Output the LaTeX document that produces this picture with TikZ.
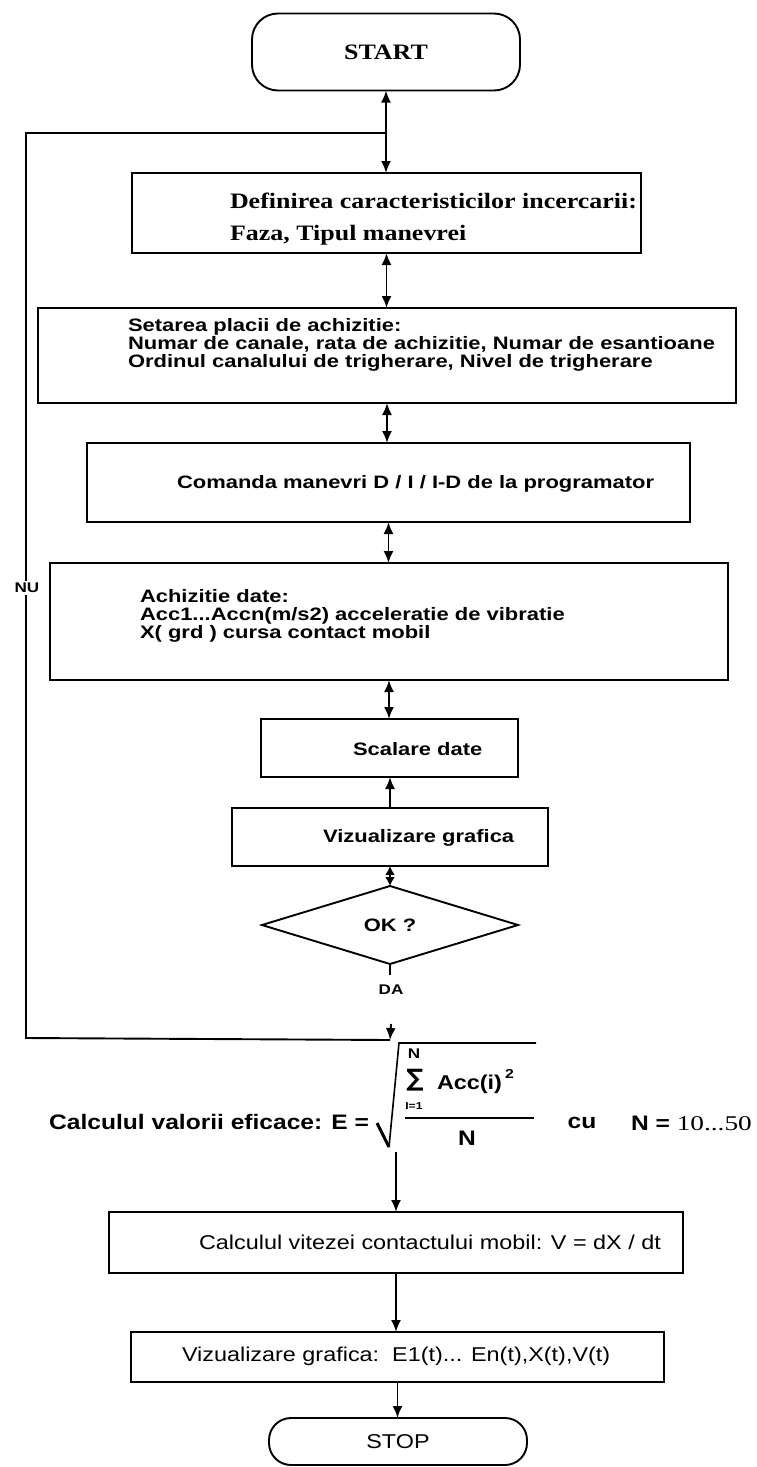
\documentclass[tikz,border=0pt]{standalone}
\usepackage{fontspec}
\setmainfont{Liberation Serif}
\setsansfont{Liberation Sans}
\newfontfamily\sfw[FakeStretch=1.22]{Liberation Sans}
\newfontfamily\sfn[FakeStretch=1.17]{Liberation Sans}
\newfontfamily\rmw[FakeStretch=1.18]{Liberation Serif}
\newfontfamily\rmx[FakeStretch=1.3]{Liberation Serif}
\newfontfamily\symfont{DejaVu Sans}
\usetikzlibrary{arrows.meta,shapes.geometric}

\begin{document}
\begin{tikzpicture}[x=1pt,y=-1pt,
  every node/.style={inner sep=0pt, outer sep=0pt},
  box/.style={draw, line width=1.9pt, rectangle},
  term/.style={draw, line width=1.9pt, rounded corners=26pt},
  serifb/.style={font=\rmw\bfseries\fontsize{22}{32}\selectfont},
  sansb/.style={font=\sfw\bfseries\fontsize{18}{18}\selectfont},
  sansr/.style={font=\sfn\fontsize{20}{22}\selectfont},
  small/.style={font=\sfw\bfseries\fontsize{14}{16}\selectfont},
  big/.style={font=\sfn\bfseries\fontsize{21}{23}\selectfont},
  txt/.style={anchor=west, align=left},
  flow/.style={line width=1.9pt},
  tip/.style={-{Latex[length=12pt,width=10pt]}},
  both/.style={{Latex[length=12pt,width=10pt]}-{Latex[length=12pt,width=10pt]}},
]
\useasboundingbox (0,0) rectangle (757,1467);

% terminals
\node[term, minimum width=268pt, minimum height=77pt, font=\rmw\bfseries\fontsize{22}{24}\selectfont] (start) at (386,52) {START};
\node[term, rounded corners=22pt, minimum width=258pt, minimum height=47pt, sansr] (stop) at (398,1441.5) {STOP};

% process boxes
\node[box, minimum width=509pt, minimum height=80pt]  (b1) at (386.5,213) {};
\node[box, minimum width=698pt, minimum height=95pt]  (b2) at (387,355.5) {};
\node[box, minimum width=603pt, minimum height=79pt]  (b3) at (388.5,482.5) {};
\node[box, minimum width=678pt, minimum height=117pt] (b4) at (389,621.5) {};
\node[box, minimum width=257pt, minimum height=58pt]  (b5) at (389.5,748) {};
\node[box, minimum width=316pt, minimum height=58pt]  (b6) at (390,837) {};
\node[draw, line width=1.9pt, shape=diamond, aspect=3.28, minimum width=256pt, minimum height=78pt, font=\sfw\bfseries\fontsize{18}{20}\selectfont] (ok) at (390,925) {OK ?};
\node[box, minimum width=574pt, minimum height=61pt]  (b7) at (396,1242.5) {};
\node[box, minimum width=533pt, minimum height=50pt]  (b8) at (397.5,1357) {};

% box texts
\node[txt, serifb] (t1) at (230,219) {Definirea caracteristicilor incercarii:\\Faza, Tipul manevrei};
\node[txt, sansb] (t2) at (128,345) {Setarea placii de achizitie:\\Numar de canale, rata de achizitie, Numar de esantioane\\Ordinul canalului de trigherare, Nivel de trigherare};
\node[txt, sansb] (t3) at (177,484) {Comanda manevri D / I / I-D de la programator};
\node[txt, sansb] (t4) at (140,616) {Achizitie date:\\Acc1...Accn(m/s2) acceleratie de vibratie\\X( grd ) cursa contact mobil};
\node[txt, sansb] (t5) at (353,749) {Scalare date};
\node[txt, sansb] (t6) at (323,838) {Vizualizare grafica};
\node[txt, sansr] (t7) at (199,1242) {Calculul vitezei contactului mobil: V = dX / dt};
\node[txt, sansr] (t8) at (182,1356) {Vizualizare grafica:\ \ E1(t)... En(t),X(t),V(t)};

% main flow
\coordinate (jtop) at (386,133);
\coordinate (ltop) at (26,133);
\coordinate (lbot) at (26,1038);
\coordinate (jbot) at (390,1040);
\coordinate (jin)  at (391,1024);
\coordinate (dastub) at (390,975);
\draw[flow,both] (start.south) -- (start.south |- b1.north);
\draw[flow,both] (b1.south) -- (b1.south |- b2.north);
\draw[flow,both] (b2.south) -- (b2.south |- b3.north);
\draw[flow,both] (b3.south) -- (b3.south |- b4.north);
\draw[flow,both] (b4.south) -- (b4.south |- b5.north);
\draw[flow,tip] (b6.north) -- (b6.north |- b5.south);
\draw[flow,{Latex[length=9pt,width=10pt]}-{Latex[length=9pt,width=10pt]}] (b6.south) -- (ok.north);
\draw[flow] (ok.south) -- (dastub);
\node[small] (da) at (391,990) {DA};

% return loop
\draw[flow] (jtop) -- (ltop) -- (lbot) -- (jbot);
\draw[flow,tip] (jin) -- (jbot);
\node[fill=white, inner ysep=2pt, small] (nu) at (27,588) {NU};

% RMS formula
\node[anchor=east, font=\sfn\bfseries\fontsize{21}{23}\selectfont] (calc) at (369,1122) {Calculul valorii eficace: E =};
\coordinate (r1) at (377,1123);
\coordinate (r2) at (389,1147);
\coordinate (r3) at (399,1043);
\coordinate (r4) at (536,1043);
\draw[line width=3pt] (r1) -- (r2);
\draw[line width=1.6pt] (r2) -- (r3) -- (r4);
\node[font=\symfont\bfseries\fontsize{24}{26}\selectfont] (sum) at (415,1080) {∑};
\node[font=\sfw\bfseries\fontsize{14}{16}\selectfont] (sumup) at (414,1054) {N};
\node[font=\sfw\bfseries\fontsize{10}{12}\selectfont] (sumlo) at (414,1106) {I=1};
\node[anchor=west, font=\sfn\bfseries\fontsize{20}{22}\selectfont] (acc) at (437,1084) {Acc(i)};
\node[anchor=south west, font=\sfw\bfseries\fontsize{13}{15}\selectfont] (sq) at ([xshift=3pt,yshift=-4pt]acc.north east) {2};
\coordinate (fr1) at (405,1118);
\coordinate (fr2) at (534,1118);
\draw[line width=1.6pt] (fr1) -- (fr2);
\node[big] (den) at (467,1138) {N};
\node[big] (cu) at (582,1123) {cu};
\node[anchor=west, font=\fontsize{21}{23}\selectfont] (nrange) at (631,1123) {\sfn\bfseries N =\ \rmx\mdseries 10...50};

% lower flow
\coordinate (fbot) at (396,1152);
\draw[flow,tip] (fbot) -- (b7.north);
\draw[flow,tip] (b7.south) -- (b7.south |- b8.north);
\draw[flow,tip] (b8.south) -- (b8.south |- stop.north);
\end{tikzpicture}
\end{document}
